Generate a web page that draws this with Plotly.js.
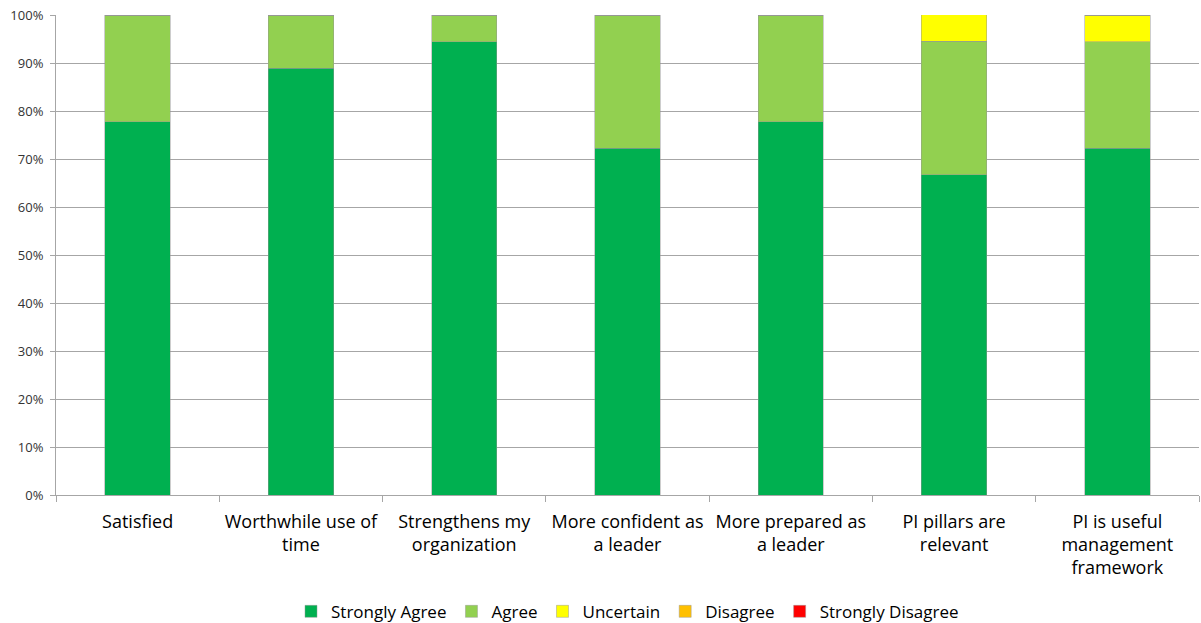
<!DOCTYPE html>
<html>
<head>
<meta charset="utf-8">
<script src="https://cdn.plot.ly/plotly-3.0.1.min.js"></script>
<style>html,body{margin:0;padding:0;background:#fff;}#chart{width:1201px;height:623px;}</style>
</head>
<body>
<div id="chart"></div>
<script>
const categories = ["Satisfied", "Worthwhile use of<br>time", "Strengthens my<br>organization", "More confident as<br>a leader", "More prepared as<br>a leader", "PI pillars are<br>relevant", "PI is useful<br>management<br>framework"];
const stronglyAgree = [0.778, 0.889, 0.944, 0.722, 0.778, 0.667, 0.722];
const agree = [0.222, 0.111, 0.056, 0.278, 0.222, 0.278, 0.222];
const uncertain = [0, 0, 0, 0, 0, 0.056, 0.056];
const disagree = [0, 0, 0, 0, 0, 0, 0];
const stronglyDisagree = [0, 0, 0, 0, 0, 0, 0];
const seriesNames = ["Strongly Agree", "Agree", "Uncertain", "Disagree", "Strongly Disagree"];
const seriesColors = ["#00B050", "#92D050", "#FFFF00", "#FFC000", "#FF0000"];
const seriesValues = [stronglyAgree, agree, uncertain, disagree, stronglyDisagree];

const traces = seriesValues.map((vals, i) => ({
  type: "bar",
  name: seriesNames[i],
  x: categories,
  y: vals,
  marker: {color: seriesColors[i], line: {color: "rgba(150,150,150,0.6)", width: 0.8}},
  hoverinfo: "skip"
}));

const layout = {
  width: 1201, height: 623,
  margin: {l: 56, r: 2, t: 15, b: 128, autoexpand: false},
  barmode: "stack",
  bargap: 0.6,
  paper_bgcolor: "#fff", plot_bgcolor: "#fff",
  font: {family: "Open Sans, Liberation Sans, sans-serif", color: "#000"},
  xaxis: {
    type: "category",
    automargin: false,
    showline: true, linecolor: "#a6a6a6", linewidth: 1,
    ticks: "outside", tickson: "boundaries", ticklen: 6, tickcolor: "#a6a6a6",
    ticklabelstandoff: 10,
    showgrid: false,
    tickfont: {size: 18, color: "#000"},
    tickangle: 0
  },
  yaxis: {
    range: [0, 1],
    automargin: false,
    tickformat: ".0%", dtick: 0.1,
    showline: true, linecolor: "#a6a6a6", linewidth: 1,
    ticks: "outside", ticklen: 5, tickcolor: "#a6a6a6",
    ticklabelstandoff: 4,
    showgrid: true, gridcolor: "#a6a6a6", gridwidth: 1,
    zeroline: false,
    tickfont: {size: 13, color: "#333"}
  },
  showlegend: true,
  legend: {
    orientation: "h", x: 0.5, xanchor: "center",
    yref: "container", y: 0.018, yanchor: "middle",
    font: {size: 17, color: "#000"}, traceorder: "normal", itemclick: false
  }
};

Plotly.newPlot("chart", traces, layout, {staticPlot: true});
</script>
</body>
</html>
